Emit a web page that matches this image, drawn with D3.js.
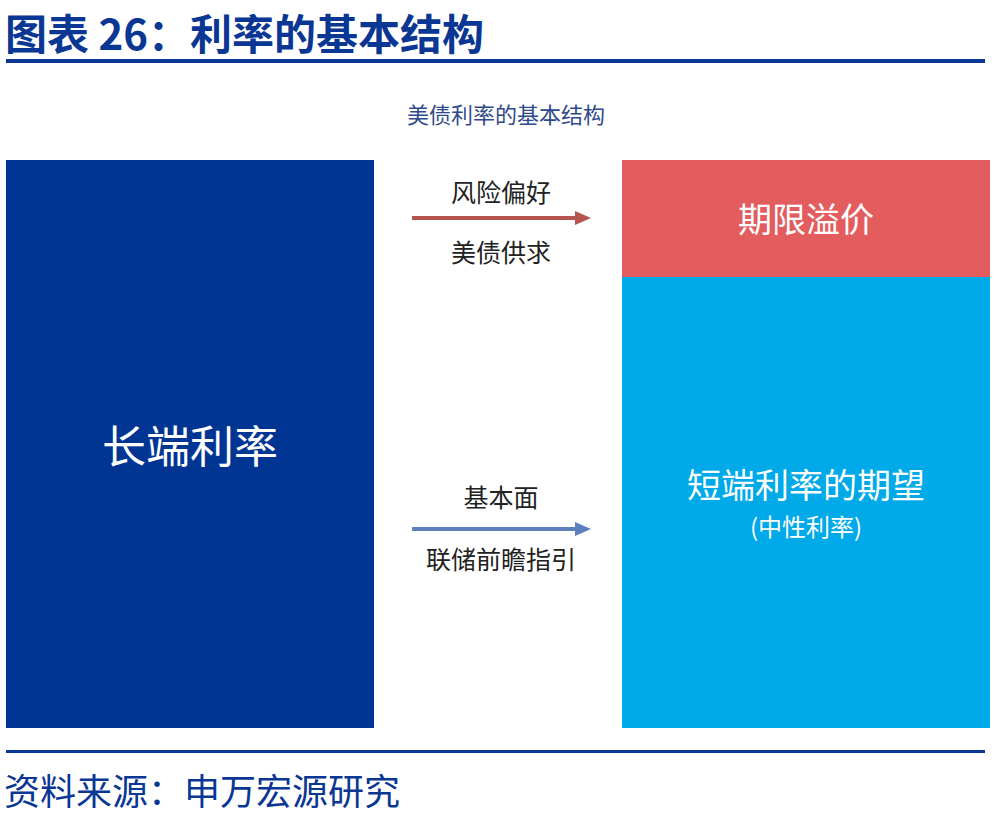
<!DOCTYPE html>
<html><head><meta charset="utf-8">
<script src="https://cdn.jsdelivr.net/npm/d3@7"></script>
<style>body{margin:0;background:#fff;}svg{display:block;font-family:"Noto Sans CJK SC","Noto Sans",sans-serif;}</style>
</head><body>
<script>
const title = "图表 26：利率的基本结构";
const subtitle = "美债利率的基本结构";
const source = "资料来源：申万宏源研究";
const categories = ["长端利率", "短端利率"];
const leftValues = [100];
const rightSegments = ["短端利率的期望", "期限溢价"];
const rightValues = [79.4, 20.6];
const segmentColors = ["#00a9e8", "#e35d5f"];
const leftColor = "#003594";
const arrowsTop = ["风险偏好", "基本面"];
const arrowsBottom = ["美债供求", "联储前瞻指引"];
const arrowColors = ["#b85450", "#5b80bf"];

const W = 1000, H = 815, navy = "#0a3694";
const svg = d3.select("body").append("svg").attr("width", W).attr("height", H);

svg.append("text").attr("x", 5).attr("y", 50).attr("fill", navy)
  .attr("font-size", 42).attr("font-weight", 700).text(title);
svg.append("rect").attr("x", 6).attr("y", 59).attr("width", 979).attr("height", 4).attr("fill", navy);
svg.append("text").attr("x", 506).attr("y", 123).attr("text-anchor", "middle")
  .attr("fill", "#2f4a8a").attr("font-size", 22).text(subtitle);

const x = d3.scaleBand().domain(categories).range([6, 990]).paddingInner(0.4026).paddingOuter(0);
const y = d3.scaleLinear().domain([0, 100]).range([728, 160]);

// left bar
svg.append("rect").attr("x", x(categories[0])).attr("width", x.bandwidth())
  .attr("y", y(leftValues[0])).attr("height", y(0) - y(leftValues[0])).attr("fill", leftColor);
svg.append("text").attr("x", x(categories[0]) + x.bandwidth() / 2).attr("y", y(leftValues[0] / 2) + 19)
  .attr("text-anchor", "middle").attr("fill", "#fff").attr("font-size", 44).text(categories[0]);

// right stack
const stack = [];
let acc = 0;
rightValues.forEach((v, i) => { stack.push({ name: rightSegments[i], y0: acc, y1: acc + v, color: segmentColors[i] }); acc += v; });
svg.selectAll("rect.seg").data(stack).enter().append("rect").attr("class", "seg")
  .attr("x", x(categories[1])).attr("width", x.bandwidth())
  .attr("y", d => y(d.y1)).attr("height", d => y(d.y0) - y(d.y1)).attr("fill", d => d.color);

const cx = x(categories[1]) + x.bandwidth() / 2;
svg.append("text").attr("x", cx).attr("y", y((stack[1].y0 + stack[1].y1) / 2) + 13)
  .attr("text-anchor", "middle").attr("fill", "#fff").attr("font-size", 34).text(stack[1].name);
svg.append("text").attr("x", cx).attr("y", 498)
  .attr("text-anchor", "middle").attr("fill", "#fff").attr("font-size", 34).text(stack[0].name);
svg.append("text").attr("x", cx).attr("y", 536)
  .attr("text-anchor", "middle").attr("fill", "#fff").attr("font-size", 24).text("(中性利率)");

// arrows
const arrowY = [218, 529];
const ax0 = 412, ax1 = 591;
const topBase = [202, 507], botBase = [262, 569];
arrowY.forEach((ay, i) => {
  const g = svg.append("g");
  g.append("line").attr("x1", ax0).attr("x2", ax1 - 14).attr("y1", ay).attr("y2", ay)
    .attr("stroke", arrowColors[i]).attr("stroke-width", 4);
  g.append("path").attr("d", `M${ax1 - 16},${ay - 7}L${ax1},${ay}L${ax1 - 16},${ay + 7}Z`).attr("fill", arrowColors[i]);
  g.append("text").attr("x", 501).attr("y", topBase[i]).attr("text-anchor", "middle")
    .attr("fill", "#222").attr("font-size", 25).text(arrowsTop[i]);
  g.append("text").attr("x", 501).attr("y", botBase[i]).attr("text-anchor", "middle")
    .attr("fill", "#222").attr("font-size", 25).text(arrowsBottom[i]);
});

svg.append("rect").attr("x", 6).attr("y", 750).attr("width", 979).attr("height", 3).attr("fill", navy);
svg.append("text").attr("x", 4).attr("y", 805).attr("fill", navy).attr("font-size", 36).text(source);
</script>
</body></html>
